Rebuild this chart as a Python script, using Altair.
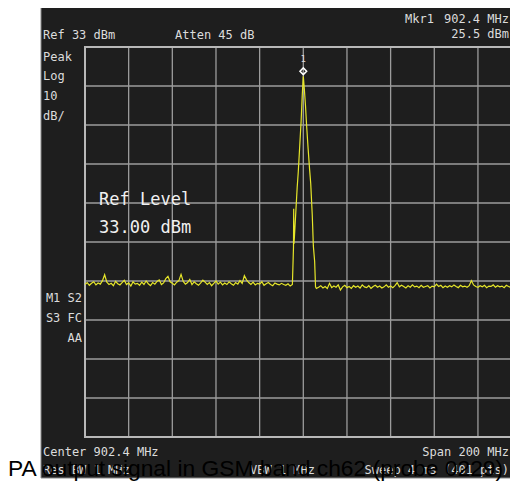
import altair as alt
import pandas as pd

# ---- data ----
start_mhz = 802.4          # center 902.4 MHz, span 200 MHz
left_noise_dbm = [-27.9,-27.4,-28.1,-27.6,-27.2,-28.0,-27.5,-27.8,-26.9,-25.4,-27.3,-27.9,-27.6,-28.2,-27.1,-27.7,-28.0,-27.4,-26.8,-27.9,
                  -27.5,-28.3,-27.2,-27.8,-27.6,-28.1,-27.3,-27.9,-27.0,-27.7,-28.2,-27.4,-27.8,-27.1,-26.7,-27.9,-27.5,-26.4,-25.8,-27.2,
                  -27.6,-28.0,-27.3,-26.9,-25.3,-27.1,-27.8,-27.4,-26.6,-27.9,-27.2,-27.7,-28.1,-27.5,-26.8,-27.3,-27.9,-27.4,-28.2,-27.6,
                  -27.0,-27.8,-27.3,-28.0,-27.5,-27.9,-27.2,-27.7,-28.1,-27.4,-27.8,-26.9,-27.6,-25.6,-26.7,-27.4,-27.9,-27.3,-28.0,-27.6,
                  -27.8,-27.2,-28.1,-27.7,-27.4,-27.9,-28.2,-27.5,-27.8,-28.0,-27.6,-27.9,-28.1,-27.7,-28.3,-27.9]
peak_freq_mhz = [897.9, 898.0, 898.1, 898.3, 898.9, 899.6, 900.1, 900.8, 901.4, 901.9, 902.4,
                 902.9, 903.4, 903.9, 904.6, 905.3, 905.8, 906.5, 907.0, 907.6, 908.0]
peak_level_dbm = [-18.5, -8.5, -17.5, -16.0, -10.0, -3.0, 1.0, 8.0, 14.0, 20.5, 25.5,
                  22.0, 18.0, 13.0, 7.0, 1.5, -2.0, -10.0, -18.0, -22.0, -28.5]
right_start_mhz = 908.4
right_noise_dbm = [-28.9,-28.6,-28.2,-28.8,-28.4,-28.9,-27.6,-28.7,-28.3,-28.6,-28.0,-29.3,-28.5,-28.1,-28.7,-28.4,-28.9,-28.2,-28.6,-28.3,
                   -28.8,-28.0,-28.5,-28.7,-28.2,-28.9,-28.4,-28.1,-28.6,-28.3,-28.8,-28.5,-28.0,-28.6,-28.3,-28.7,-28.2,-27.4,-28.5,-28.1,
                   -28.4,-28.8,-28.2,-28.6,-28.0,-28.5,-28.3,-28.7,-28.1,-28.6,-28.4,-28.2,-28.8,-28.3,-28.5,-27.8,-28.4,-28.1,-28.7,-28.3,
                   -28.6,-28.2,-28.5,-28.0,-28.4,-28.7,-28.1,-28.5,-28.3,-28.6,-28.2,-26.9,-28.0,-28.4,-28.6,-28.2,-28.5,-28.1,-28.7,-28.3,
                   -28.4,-28.0,-28.6,-28.2,-28.5,-28.3,-28.7,-28.1,-28.4,-28.6,-28.2,-28.5,-28.3]
marker_freq = [902.4]
marker_level = [25.5]
freq_grid = [822.4, 842.4, 862.4, 882.4, 902.4, 922.4, 942.4, 962.4, 982.4]
level_grid = [23, 13, 3, -7, -17, -27, -37, -47, -57]

freqs = ([start_mhz + i for i in range(len(left_noise_dbm))] + peak_freq_mhz +
         [right_start_mhz + i for i in range(len(right_noise_dbm))])
levels = left_noise_dbm + peak_level_dbm + right_noise_dbm
trace = pd.DataFrame({"f": freqs, "L": levels})

W, H = 425, 390
xs = alt.Scale(domain=[802.4, 802.4 + W / 2.183], nice=False, zero=False)
ys = alt.Scale(domain=[-67, 33], nice=False, zero=False)
one = pd.DataFrame({"a": [0]})

TXT = "#dcdcdc"
MONO = "DejaVu Sans Mono"
RX = 424  # right edge for right-aligned texts

panel = alt.Chart(one).mark_rect(fill="#1e1e1e", stroke="#8a8a8a", strokeWidth=1).encode(
    x=alt.value(-44), x2=alt.value(445), y=alt.value(-43), y2=alt.value(431))

vgrid = alt.Chart(pd.DataFrame({"f": freq_grid})).mark_rule(color="#9c9c9c", strokeWidth=1.3).encode(
    x=alt.X("f:Q", scale=xs, axis=None), y=alt.value(0), y2=alt.value(H))
hgrid = alt.Chart(pd.DataFrame({"L": level_grid})).mark_rule(color="#9c9c9c", strokeWidth=1.3).encode(
    y=alt.Y("L:Q", scale=ys, axis=None), x=alt.value(0), x2=alt.value(W + 10))
border = alt.Chart(one).mark_rect(fill=None, stroke="#b8b8b8", strokeWidth=2).encode(
    x=alt.value(0), x2=alt.value(437), y=alt.value(0), y2=alt.value(H))

line = alt.Chart(trace).mark_line(color="#e6e62a", strokeWidth=1.2, clip=True).encode(
    x=alt.X("f:Q", scale=xs, axis=None), y=alt.Y("L:Q", scale=ys, axis=None))

mk = pd.DataFrame({"f": marker_freq, "L": marker_level})
marker = alt.Chart(mk).mark_point(shape="diamond", filled=False, stroke="white", strokeWidth=1.5,
                                  size=45, yOffset=-5, opacity=1).encode(
    x=alt.X("f:Q", scale=xs, axis=None), y=alt.Y("L:Q", scale=ys, axis=None))
marker_lbl = alt.Chart(mk).mark_text(text="1", dy=-17, fontSize=9, font=MONO, color=TXT).encode(
    x=alt.X("f:Q", scale=xs, axis=None), y=alt.Y("L:Q", scale=ys, axis=None))


def label(text, px, py, align="left", size=12, color=TXT, font=MONO):
    return alt.Chart(one).mark_text(text=text, align=align, baseline="alphabetic",
                                    fontSize=size, font=font, color=color).encode(
        x=alt.value(px), y=alt.value(py))


labels = [
    label("Mkr1", 320, -24),
    label("902.4 MHz", RX, -24, "right"),
    label("Ref 33 dBm", -42, -8),
    label("Atten 45 dB", 90, -8),
    label("25.5 dBm", RX, -9, "right"),
    label("Peak", -42, 14),
    label("Log", -42, 33),
    label("10", -42, 53),
    label("dB/", -42, 73),
    label("M1 S2", -3, 255, "right"),
    label("S3 FC", -3, 275, "right"),
    label("AA", -3, 295, "right"),
    label("Center 902.4 MHz", -42, 409),
    label("Span 200 MHz", RX, 409, "right"),
    label("Res BW 1 MHz", -42, 427),
    label("VBW 1 MHz", 165, 427),
    label("Sweep 4 ms (401 pts)", RX, 427, "right"),
    label("Ref Level", 14, 158, size=17, color="#f0f0f0"),
    label("33.00 dBm", 14, 186, size=17, color="#f0f0f0"),
    label("PA output signal in GSM band ch62 (probe 0229)", -77, 429, size=22.8,
          color="#000000", font="Liberation Sans"),
]

chart = alt.layer(panel, vgrid, hgrid, border, line, marker, marker_lbl, *labels).properties(
    width=W, height=H,
    padding={"left": 77, "top": 39, "right": 0, "bottom": 44},
    autosize=alt.AutoSizeParams(type="none"),
    background="white",
).configure_view(stroke=None)

chart.save("out.html", embed_options={"renderer": "svg", "actions": False})
